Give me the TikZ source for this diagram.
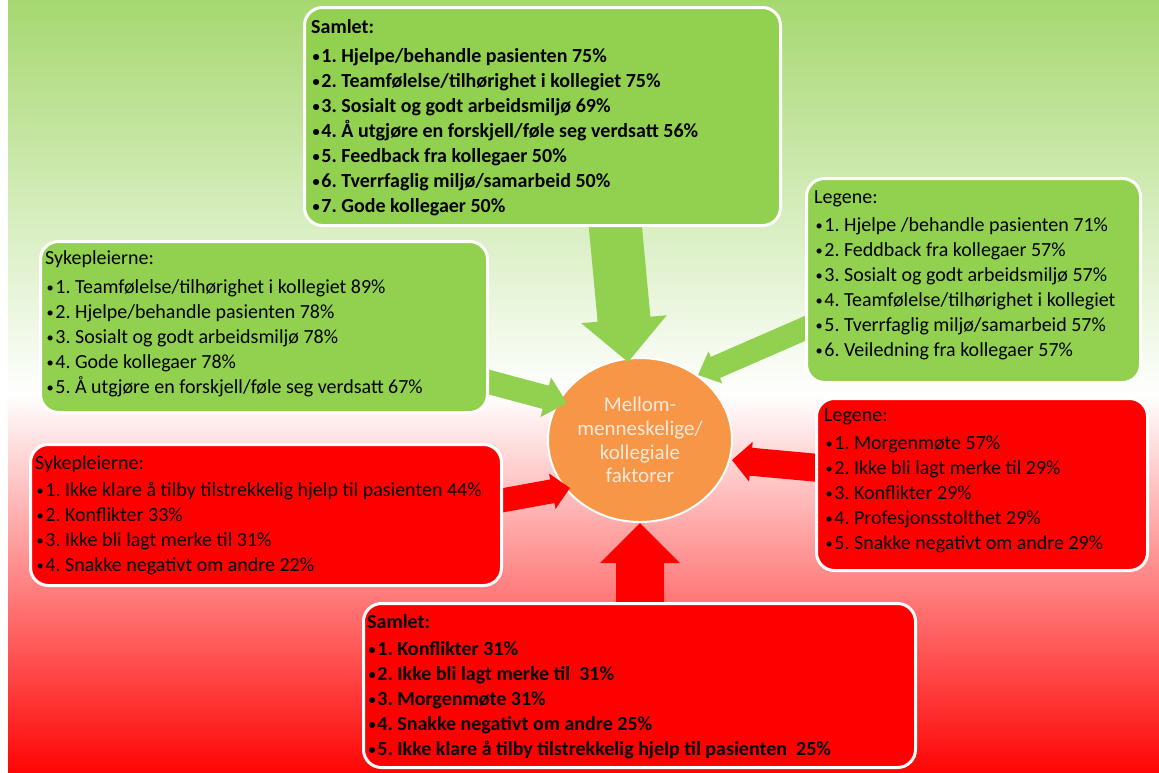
\documentclass[tikz,border=0pt]{standalone}
\usepackage{fontspec}
\setmainfont{Carlito}
\usetikzlibrary{calc,shapes.geometric}

\definecolor{boxgreen}{RGB}{146,208,80}
\definecolor{boxred}{RGB}{255,0,0}
\definecolor{huborange}{RGB}{247,150,70}
\definecolor{bggreen}{RGB}{166,216,112}
\definecolor{bgred}{RGB}{255,5,5}
\definecolor{hubtext}{RGB}{253,233,217}

\pgfdeclarelayer{bg}
\pgfdeclarelayer{hublayer}
\pgfdeclarelayer{links}
\pgfsetlayers{bg,hublayer,links,main}

% small list bullet
\newcommand\bul{\hspace*{1.5pt}\raisebox{.12ex}{\scalebox{.72}{•}}\kern1.5pt}

% block arrow: #1 style, #2 tail, #3 tip, #4 shaft half width, #5 head half width, #6 head length
\newcommand\blockarrow[6]{%
  \coordinate (ba-h) at ($(#3)!#6!(#2)$);
  \fill[#1] ($(#2)!#4!90:(#3)$) -- ($(ba-h)!#4!90:(#3)$) -- ($(ba-h)!#5!90:(#3)$)
    -- (#3) -- ($(ba-h)!#5!-90:(#3)$) -- ($(ba-h)!#4!-90:(#3)$) -- ($(#2)!#4!-90:(#3)$) -- cycle;}

\tikzset{
  panel/.style={draw=white, line width=3pt, rounded corners=18pt, anchor=north west, inner sep=0pt},
  greenpanel/.style={panel, fill=boxgreen},
  redpanel/.style={panel, fill=boxred},
  listtext/.style={anchor=north west, inner sep=0pt, align=left, text=black,
                   font=\fontsize{20}{25}\selectfont\frenchspacing},
  boldlist/.style={listtext, font=\fontsize{20}{25}\selectfont\bfseries\frenchspacing},
  greenlink/.style={fill=boxgreen},
  redlink/.style={fill=boxred},
}

\begin{document}
\frenchspacing
\begin{tikzpicture}[x=1pt, y=-1pt]
\useasboundingbox (0,0) rectangle (1159,772);

% backdrop: green at the top, white in the middle, red at the bottom
\begin{pgfonlayer}{bg}
  \fill[white] (0,0) rectangle (1159,772);
  \shade[top color=bggreen, bottom color=white] (8,0) rectangle (1159,396);
  \shade[top color=white, bottom color=bgred] (8,395) rectangle (1159,772);
\end{pgfonlayer}

% central topic
\begin{pgfonlayer}{hublayer}
\node[ellipse, fill=huborange, draw=white, line width=2pt, minimum width=184pt,
      minimum height=164pt, inner sep=0pt, align=center, text=hubtext,
      font=\fontsize{21}{23.7}\selectfont] (hub) at (640,440)
      {Mellom-\\menneskelige/\\kollegiale\\faktorer};
\end{pgfonlayer}

% panels
\node[greenpanel, minimum width=476pt, minimum height=218pt] (gAll) at (303,6) {};
\node[greenpanel, minimum width=447pt, minimum height=171pt] (gNurse) at (39,240) {};
\node[greenpanel, minimum width=334pt, minimum height=204pt] (gDoc) at (805,177) {};
\node[redpanel, minimum width=471pt, minimum height=141pt] (rNurse) at (29,443) {};
\node[redpanel, minimum width=331pt, minimum height=172pt] (rDoc) at (815,397) {};
\node[redpanel, minimum width=552pt, minimum height=164pt] (rAll) at (362,602) {};

% arrows from the panels into the topic
\coordinate (sAll) at (614,212);
\coordinate (sNurseG) at (470,377);
\coordinate (sDocG) at (822,321);
\coordinate (sNurseR) at (485,503.5);
\coordinate (sDocR) at (830,469);
\coordinate (sAllR) at (640,612);
\coordinate (tAll) at ($(hub.center)+(-12,-78)$);
\coordinate (tNurseG) at ($(hub.center)+(-73,-37)$);
\coordinate (tDocG) at ($(hub.center)+(58,-65)$);
\coordinate (tNurseR) at ($(hub.center)+(-70,48)$);
\coordinate (tDocR) at ($(hub.center)+(92,20)$);
\coordinate (tAllR) at (hub.south);
\begin{pgfonlayer}{links}
  \blockarrow{greenlink}{sAll}{tAll}{26.5pt}{43pt}{43pt}
  \blockarrow{greenlink}{sNurseG}{tNurseG}{12pt}{20.5pt}{22pt}
  \blockarrow{greenlink}{sDocG}{tDocG}{11.5pt}{17.5pt}{19pt}
  \blockarrow{redlink}{sNurseR}{tNurseR}{12pt}{18pt}{18pt}
  \blockarrow{redlink}{sDocR}{tDocR}{14pt}{20pt}{19pt}
  \blockarrow{redlink}{sAllR}{tAllR}{24pt}{40pt}{40pt}
\end{pgfonlayer}

% panel texts
\node[boldlist] (gAllText) at (311,16) {\strut Samlet:\\[3.5pt]
  \bul1. Hjelpe/behandle pasienten 75\%\\
  \bul2. Teamfølelse/tilhørighet i kollegiet 75\%\\
  \bul3. Sosialt og godt arbeidsmiljø 69\%\\
  \bul4. Å utgjøre en forskjell/føle seg verdsatt 56\%\\
  \bul5. Feedback fra kollegaer 50\%\\
  \bul6. Tverrfaglig miljø/samarbeid 50\%\\
  \bul7. Gode kollegaer 50\%};

\node[listtext] (gNurseText) at (45,247) {\strut Sykepleierne:\\[4pt]
  \bul1. Teamfølelse/tilhørighet i kollegiet 89\%\\
  \bul2. Hjelpe/behandle pasienten 78\%\\
  \bul3. Sosialt og godt arbeidsmiljø 78\%\\
  \bul4. Gode kollegaer 78\%\\
  \bul5. Å utgjøre en forskjell/føle seg verdsatt 67\%};

\node[listtext] (gDocText) at (814,186) {\strut Legene:\\[3pt]
  \bul1. Hjelpe /behandle pasienten 71\%\\
  \bul2. Feddback fra kollegaer 57\%\\
  \bul3. Sosialt og godt arbeidsmiljø 57\%\\
  \bul4. Teamfølelse/tilhørighet i kollegiet\\
  \bul5. Tverrfaglig miljø/samarbeid 57\%\\
  \bul6. Veiledning fra kollegaer 57\%};

\node[listtext] (rNurseText) at (35,452) {\strut Sykepleierne:\\[2pt]
  \bul1. Ikke klare å tilby tilstrekkelig hjelp til pasienten 44\%\\
  \bul2. Konflikter 33\%\\
  \bul3. Ikke bli lagt merke til 31\%\\
  \bul4. Snakke negativt om andre 22\%};

\node[listtext] (rDocText) at (824,404) {\strut Legene:\\[3pt]
  \bul1. Morgenmøte 57\%\\
  \bul2. Ikke bli lagt merke til 29\%\\
  \bul3. Konflikter 29\%\\
  \bul4. Profesjonsstolthet 29\%\\
  \bul5. Snakke negativt om andre 29\%};

\node[boldlist] (rAllText) at (367,611) {\strut Samlet:\\[2pt]
  \bul1. Konflikter 31\%\\
  \bul2. Ikke bli lagt merke til\ \ 31\%\\
  \bul3. Morgenmøte 31\%\\
  \bul4. Snakke negativt om andre 25\%\\
  \bul5. Ikke klare å tilby tilstrekkelig hjelp til pasienten\ \ 25\%};
\end{tikzpicture}
\end{document}
